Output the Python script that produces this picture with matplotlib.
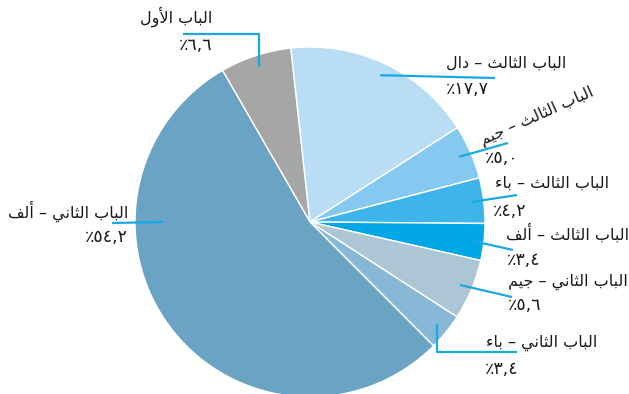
import numpy as np
import matplotlib
matplotlib.use('Agg')
import matplotlib.pyplot as plt

# Chapters clockwise from the top of the pie
chapters = ['الباب الأول', 'الباب الثالث – دال', 'الباب الثالث – جيم',
            'الباب الثالث – باء', 'الباب الثالث – ألف', 'الباب الثاني – جيم',
            'الباب الثاني – باء', 'الباب الثاني – ألف']
shares = [6.6, 17.7, 5.0, 4.2, 3.4, 5.6, 3.4, 54.2]
colors = ['#a6a6a6', '#b9ddf5', '#86c9f0', '#3db5eb',
          '#00a7e7', '#adc6d5', '#87b8d6', '#6ba3c4']

W, H = 629, 394
CX, CY, R = 310, 222, 175
LINE = '#19a9e2'

# presentation forms: isolated, final, initial, medial
FORMS = {
    'ء': ('\ufe80', None, None, None),
    'أ': ('\ufe83', '\ufe84', None, None),
    'ا': ('\ufe8d', '\ufe8e', None, None),
    'ب': ('\ufe8f', '\ufe90', '\ufe91', '\ufe92'),
    'ث': ('\ufe99', '\ufe9a', '\ufe9b', '\ufe9c'),
    'ج': ('\ufe9d', '\ufe9e', '\ufe9f', '\ufea0'),
    'د': ('\ufea9', '\ufeaa', None, None),
    'ف': ('\ufed1', '\ufed2', '\ufed3', '\ufed4'),
    'ل': ('\ufedd', '\ufede', '\ufedf', '\ufee0'),
    'م': ('\ufee1', '\ufee2', '\ufee3', '\ufee4'),
    'ن': ('\ufee5', '\ufee6', '\ufee7', '\ufee8'),
    'و': ('\ufeed', '\ufeee', None, None),
    'ي': ('\ufef1', '\ufef2', '\ufef3', '\ufef4'),
}
LAM_ALEF = {'ا': ('\ufefb', '\ufefc'), 'أ': ('\ufef7', '\ufef8')}


def shape(text):
    # join letters and flip to visual order, since Agg draws left to right
    items = []
    i = 0
    while i < len(text):
        if text[i] == 'ل' and i + 1 < len(text) and text[i + 1] in LAM_ALEF:
            items.append(('LA', text[i + 1]))
            i += 2
        else:
            items.append((text[i], None))
            i += 1

    def links_next(it):
        return it[0] in FORMS and FORMS[it[0]][2] is not None

    def links_prev(it):
        return it[0] == 'LA' or (it[0] in FORMS and FORMS[it[0]][1] is not None)

    out = []
    for k, it in enumerate(items):
        prev = k > 0 and links_next(items[k - 1]) and links_prev(it)
        nxt = k + 1 < len(items) and links_next(it) and links_prev(items[k + 1])
        c = it[0]
        if c == 'LA':
            out.append(LAM_ALEF[it[1]][1 if prev else 0])
        elif c in FORMS:
            iso, fin, ini, med = FORMS[c]
            out.append(med if prev and nxt else fin if prev else ini if nxt else iso)
        else:
            out.append(c)
    return ''.join(reversed(out))


def pct(v):
    digits = f'{v:.1f}'.translate(str.maketrans('0123456789.', '٠١٢٣٤٥٦٧٨٩,'))
    return '٪' + digits


def P(x, y):
    # pixel position (y down) -> axes data
    return x, H - y


fig = plt.figure(figsize=(W / 100, H / 100), dpi=100)
ax = fig.add_axes([0, 0, 1, 1])
wedges, _ = ax.pie(shares, colors=colors, startangle=120, counterclock=False,
                   center=P(CX, CY), radius=R,
                   wedgeprops=dict(edgecolor='white', linewidth=1))
ax.set_xlim(0, W)
ax.set_ylim(0, H)
ax.axis('off')


def anchor(w, r=0.93, ang=None):
    if ang is None:
        ang = (w.theta1 + w.theta2) / 2
    a = np.deg2rad(ang)
    cx, cy = w.center
    return cx + r * R * np.cos(a), cy + r * R * np.sin(a)


# label placement: name centre, percent pos + align, leader route after the anchor
layout = [
    dict(txt=(176, 17), p=(212, 45), pha='right', route=lambda a: [(a[0], H - 34), P(183, 34)]),
    dict(txt=(506, 63), p=(446, 89), pha='left', route=lambda a: [P(495, 78)]),
    dict(txt=(537, 116), rot=24, p=(485, 158), pha='left', route=lambda a: [P(508, 143)]),
    dict(txt=(552, 183), p=(493, 211), pha='left', route=lambda a: [P(517, 195)]),
    dict(txt=(567, 233), p=(507, 260), pha='left', route=lambda a: [P(513, 250)]),
    dict(txt=(568, 282), p=(508, 305), pha='left', route=lambda a: [P(512, 297)]),
    dict(txt=(542, 343), p=(485, 369), pha='left', route=lambda a: [(a[0], H - 352), P(517, 352)]),
    dict(txt=(68, 211), p=(128, 237), pha='right', route=lambda a: [P(112, 223)], ang=180, r=0.84),
]

for w, name, v, lay in zip(wedges, chapters, shares, layout):
    a = anchor(w, lay.get('r', 0.93), lay.get('ang'))
    pts = [a] + lay['route'](a)
    xs, ys = zip(*pts)
    ax.plot(xs, ys, color=LINE, lw=1.6, solid_capstyle='butt', zorder=3)
    ax.text(*P(*lay['txt']), shape(name), ha='center', va='center',
            rotation=lay.get('rot', 0), rotation_mode='anchor',
            fontsize=11.5, color='#1a1a1a', family='DejaVu Sans')
    ax.text(*P(*lay['p']), pct(v), ha=lay['pha'], va='center',
            fontsize=12.5, color='#1a1a1a', family='DejaVu Sans')

fig.savefig('out.png', dpi=100)
